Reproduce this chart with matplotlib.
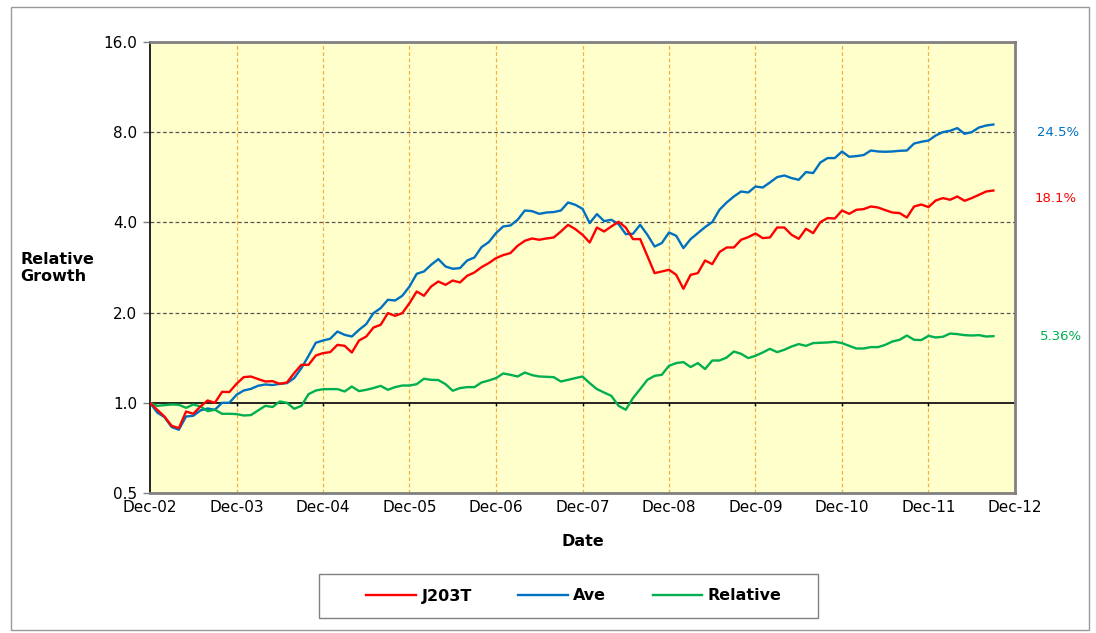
import numpy as np
import matplotlib
matplotlib.use("Agg")
import matplotlib.pyplot as plt
from matplotlib.patches import Rectangle
from matplotlib.ticker import FixedLocator, FixedFormatter, NullLocator

plt.rcParams['font.family'] = ['DejaVu Sans']

# monthly values, Dec-02 .. Sep-12 (118 points)
j203t = [1.00, 0.948, 0.900, 0.838, 0.823, 0.935, 0.919, 0.972, 1.018, 1.00, 1.088, 1.086,
         1.157, 1.218, 1.224, 1.200, 1.178, 1.181, 1.157, 1.169, 1.256, 1.339, 1.339, 1.438, 1.465,
         1.476, 1.561, 1.549, 1.472, 1.614, 1.664, 1.783, 1.821, 1.992, 1.951, 1.992, 2.151,
         2.352, 2.276, 2.444, 2.540, 2.476, 2.559, 2.521, 2.654, 2.722, 2.837, 2.926, 3.040,
         3.111, 3.160, 3.342, 3.473, 3.535, 3.500, 3.535, 3.562, 3.730, 3.926, 3.799, 3.637,
         3.428, 3.846, 3.730, 3.877, 4.019, 3.846, 3.518, 3.518, 3.090, 2.709, 2.743, 2.779,
         2.674, 2.401, 2.674, 2.709, 2.985, 2.903, 3.184, 3.299, 3.299, 3.500, 3.573, 3.673,
         3.545, 3.562, 3.846, 3.846, 3.637, 3.526, 3.808, 3.684, 4.009, 4.135, 4.121,
         4.383, 4.272, 4.407, 4.430, 4.520, 4.485, 4.396, 4.316, 4.296, 4.153, 4.520, 4.589,
         4.500, 4.734, 4.821, 4.760, 4.881, 4.722, 4.821, 4.945, 5.072, 5.111]

ave = [1.0, 0.928, 0.896, 0.830, 0.813, 0.900, 0.905, 0.943, 0.957, 0.948, 1.0, 1.0,
       1.063, 1.099, 1.113, 1.140, 1.151, 1.146, 1.157, 1.163, 1.209, 1.305, 1.435, 1.586, 1.614,
       1.636, 1.729, 1.686, 1.664, 1.752, 1.831, 1.992, 2.070, 2.207, 2.195, 2.276, 2.444,
       2.695, 2.743, 2.888, 3.017, 2.850, 2.801, 2.815, 2.985, 3.054, 3.309, 3.438, 3.684,
       3.877, 3.906, 4.081, 4.383, 4.362, 4.272, 4.316, 4.330, 4.383, 4.662, 4.579, 4.441,
       3.979, 4.263, 4.040, 4.081, 3.948, 3.656, 3.665, 3.926, 3.637, 3.324, 3.412, 3.702,
       3.608, 3.283, 3.518, 3.684, 3.858, 4.009, 4.407, 4.662, 4.881, 5.072, 5.033, 5.270,
       5.230, 5.435, 5.665, 5.736, 5.623, 5.549, 5.888, 5.844, 6.340, 6.557, 6.557,
       6.898, 6.623, 6.658, 6.710, 6.950, 6.898, 6.883, 6.898, 6.934, 6.950, 7.333, 7.431,
       7.505, 7.799, 8.006, 8.089, 8.256, 7.903, 8.006, 8.293, 8.422, 8.487]

relative = [1.0, 0.977, 0.982, 0.987, 0.985, 0.962, 0.987, 0.972, 0.938, 0.948, 0.919, 0.919,
            0.917, 0.907, 0.910, 0.943, 0.977, 0.968, 1.010, 1.0, 0.955, 0.977, 1.069, 1.099, 1.110,
            1.111, 1.111, 1.091, 1.133, 1.094, 1.105, 1.120, 1.139, 1.105, 1.128, 1.142, 1.142,
            1.154, 1.203, 1.193, 1.191, 1.154, 1.097, 1.120, 1.128, 1.128, 1.169, 1.187, 1.209,
            1.253, 1.240, 1.224, 1.262, 1.237, 1.224, 1.221, 1.218, 1.178, 1.193, 1.209, 1.224,
            1.163, 1.111, 1.082, 1.055, 0.977, 0.948, 1.037, 1.111, 1.193, 1.230, 1.240, 1.329,
            1.357, 1.367, 1.316, 1.357, 1.296, 1.384, 1.384, 1.416, 1.483, 1.457, 1.410, 1.435,
            1.472, 1.514, 1.476, 1.503, 1.541, 1.570, 1.549, 1.582, 1.586, 1.590, 1.598,
            1.582, 1.549, 1.518, 1.518, 1.534, 1.534, 1.561, 1.602, 1.623, 1.677, 1.623, 1.619,
            1.673, 1.652, 1.661, 1.703, 1.695, 1.682, 1.677, 1.682, 1.664, 1.669]

year_labels = ['Dec-02', 'Dec-03', 'Dec-04', 'Dec-05', 'Dec-06', 'Dec-07',
               'Dec-08', 'Dec-09', 'Dec-10', 'Dec-11', 'Dec-12']
y_ticks = [0.5, 1.0, 2.0, 4.0, 8.0, 16.0]
end_labels = ['18.1%', '24.5%', '5.36%']

months = np.arange(len(j203t))
year_ticks = np.arange(0, 12 * len(year_labels), 12)

RED = '#FF0000'
BLUE = '#0070C0'
GREEN = '#00B050'

fig = plt.figure(figsize=(10.96, 6.33), dpi=100)
ax = fig.add_axes([150 / 1096, 1 - 493 / 633, 865 / 1096, 451 / 633])
ax.set_facecolor('#FFFFCC')

ax.set_yscale('log', base=2)
ax.set_ylim(0.5, 16)
ax.set_xlim(0, 120)

ax.yaxis.set_major_locator(FixedLocator(y_ticks))
ax.yaxis.set_major_formatter(FixedFormatter(['%.1f' % v for v in y_ticks]))
ax.yaxis.set_minor_locator(NullLocator())
ax.set_xticks(year_ticks)
ax.set_xticklabels(year_labels)
ax.tick_params(axis='x', length=0, labelsize=11, pad=5)
ax.tick_params(axis='y', length=5, width=1, color='#808080', labelsize=11, pad=4)

# gridlines
for v in [2.0, 4.0, 8.0]:
    ax.axhline(v, color='#555555', lw=0.9, ls=(0, (3, 2)), zorder=1)
for t in year_ticks[1:-1]:
    ax.axvline(t, color='#F5B040', lw=0.9, ls=(0, (3, 2)), zorder=1)

# category axis crossing at 1.0
ax.axhline(1.0, color='black', lw=1.2, zorder=2)
ax.vlines(year_ticks[1:], 0.978, 1.0, color='black', lw=1, zorder=2)

l1, = ax.plot(months, j203t, color=RED, lw=1.7, label='J203T', zorder=4)
l2, = ax.plot(months, ave, color=BLUE, lw=1.7, label='Ave', zorder=3)
l3, = ax.plot(months, relative, color=GREEN, lw=1.7, label='Relative', zorder=3)

for s in ['top', 'right', 'bottom']:
    ax.spines[s].set_color('#808080')
    ax.spines[s].set_linewidth(2)
ax.spines['left'].set_color('black')
ax.spines['left'].set_linewidth(1.2)

ax.set_xlabel('Date', fontsize=11.5, fontweight='bold', labelpad=14)
fig.text(20 / 1096, 1 - 268 / 633, 'Relative\nGrowth', fontsize=11.5, fontweight='bold',
         ha='left', va='center', linespacing=1.2)

# end-of-series labels
ytr = ax.get_yaxis_transform()
ax.text(1.0254, ave[-1] * 0.938, end_labels[1], transform=ytr,
        color=BLUE, fontsize=9.5, va='center')
ax.text(1.023, j203t[-1] * 0.939, end_labels[0], transform=ytr,
        color=RED, fontsize=9.5, va='center')
ax.text(1.029, relative[-1], end_labels[2], transform=ytr,
        color=GREEN, fontsize=9.5, va='center')

# legend without its own frame; box drawn separately to match the wide Excel legend
leg = fig.legend(handles=[l1, l2, l3], loc='center', ncol=3,
                 bbox_to_anchor=(574 / 1096, 1 - 596 / 633),
                 prop={'weight': 'bold', 'size': 11.5}, frameon=False,
                 handlelength=3.1, columnspacing=2.9,
                 borderpad=0.5, handletextpad=0.35, borderaxespad=0)
fig.patches.append(Rectangle((319 / 1096, 1 - 618 / 633), 499 / 1096, 44 / 633,
                             transform=fig.transFigure, fill=False,
                             edgecolor='#808080', lw=1))

fig.patches.append(Rectangle((11 / 1096, 3 / 633), 1078 / 1096, 623 / 633,
                             transform=fig.transFigure, fill=False,
                             edgecolor='#999999', lw=1))

fig.savefig('out.png', dpi=100)
